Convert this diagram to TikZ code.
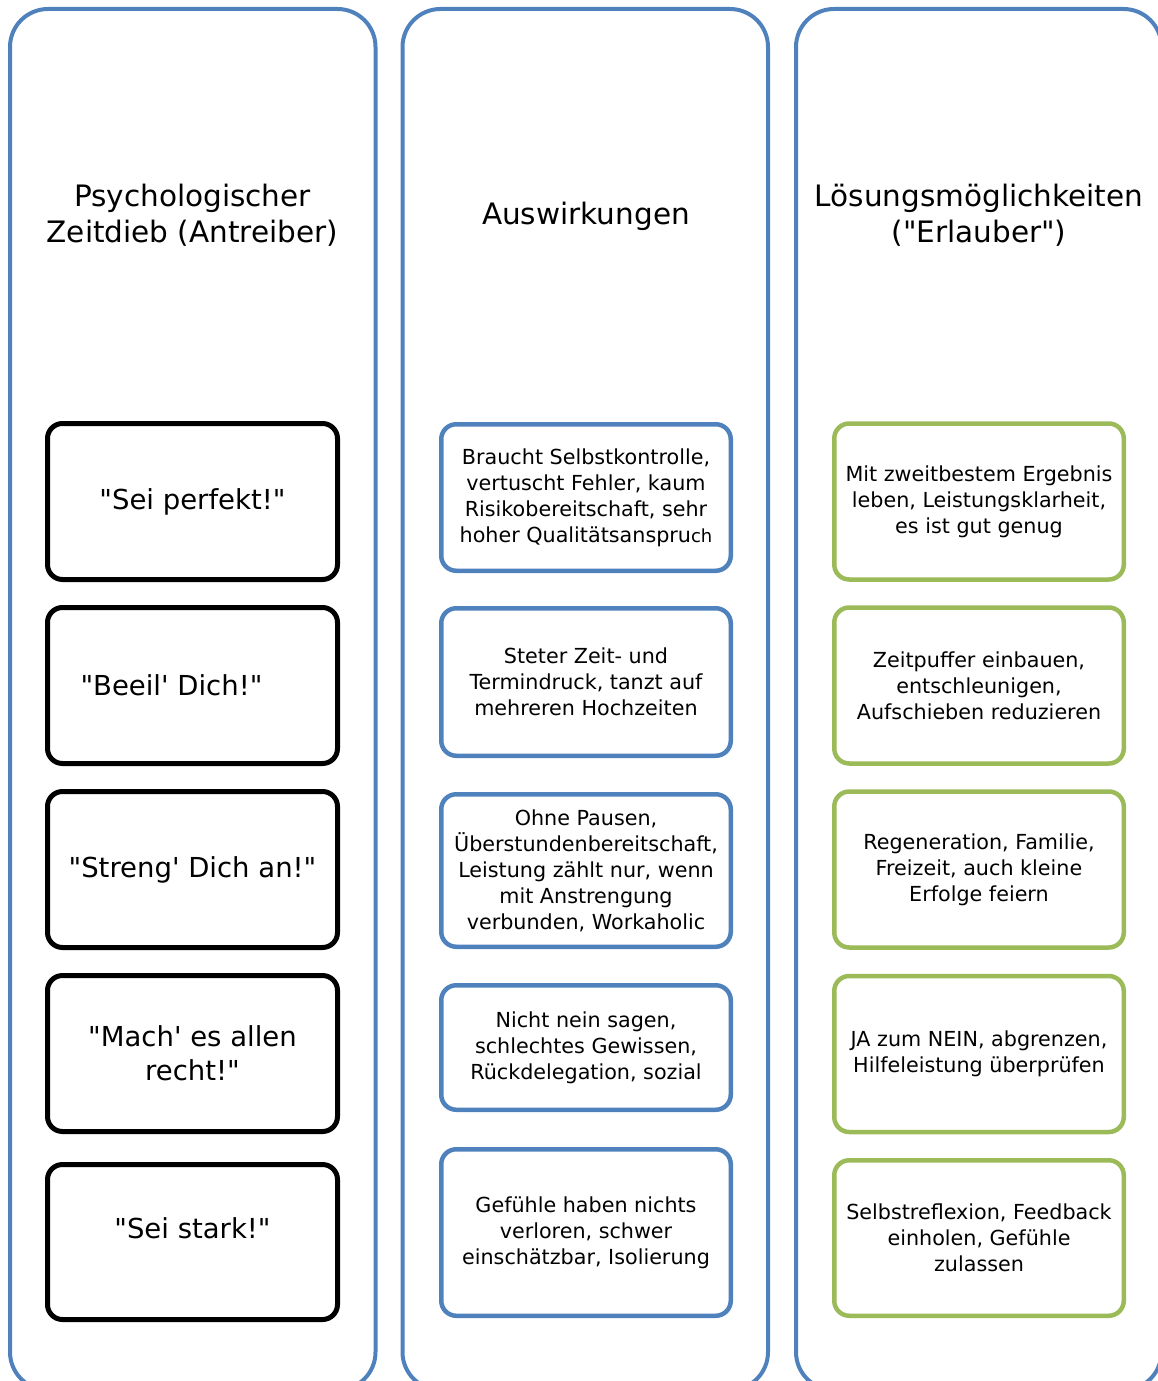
\documentclass[tikz,border=0pt]{standalone}
\usepackage{fontspec}
\setmainfont{DejaVu Sans}
\usepackage{xcolor}
\usepackage{tikz}
\usetikzlibrary{positioning}
\definecolor{bleuCol}{RGB}{79,129,189}
\definecolor{vertCol}{RGB}{155,187,89}
\newcommand{\qd}{\textquotedbl}
\newcommand{\qs}{\textquotesingle}

\begin{document}
\begin{tikzpicture}[x=1pt, y=-1pt,
			column/.style={draw=bleuCol, line width=4pt, rounded corners=38pt,
				minimum width=365.5pt, minimum height=1381pt, inner sep=0pt},
			head/.style={align=center, font=\fontsize{29.5}{36}\selectfont},
			drive/.style={draw=black, line width=5pt, rounded corners=15pt,
				minimum width=290pt, minimum height=156pt, align=center,
				font=\fontsize{27.5}{34}\selectfont},
			effect/.style={draw=bleuCol, line width=4.5pt, rounded corners=15pt,
				minimum width=289.5pt, align=center, inner sep=0pt,
				font=\fontsize{20.7}{26}\selectfont},
			remedy/.style={draw=vertCol, line width=4.5pt, rounded corners=15pt,
				minimum width=289.5pt, minimum height=156pt, align=center, inner sep=0pt,
				font=\fontsize{20.7}{26}\selectfont}
			]
			\useasboundingbox (0,0) rectangle (1158,1381);
			\clip (0,0) rectangle (1158,1381);
			
			% the three columns
			\node[column] (col1) at (192.75,699.5) {};
			\node[column] (col2) at (585.25,699.5) {};
			\node[column] (col3) at (978.75,699.5) {};
			
			\node[head] (h1) at (192.5,215) {Psychologischer\\Zeitdieb (Antreiber)};
			\node[head] (h2) at (586,216) {Auswirkungen};
			\node[head] (h3) at (979,215) {Lösungsmöglichkeiten\\(\qd Erlauber\qd)};
			
			% Antreiber
			\node[drive] (d1) at (192.5,501.5)  {\qd Sei perfekt!\qd\rule[-5pt]{0pt}{5pt}};
			\node[drive] (d2) at (192.5,685.5)  {\qd Beeil\qs{} Dich!\qd\hspace*{42pt}};
			\node[drive] (d3) at (192.5,869.5)  {\qd Streng\qs{} Dich an!\qd};
			\node[drive] (d4) at (192.5,1053.5) {\qd Mach\qs{} es allen\\recht!\qd};
			\node[drive, minimum height=155pt] (d5) at (192.5,1242) {\qd Sei stark!\qd\rule[-28pt]{0pt}{28pt}};
			
			% Auswirkungen
			\node[effect, minimum height=146.5pt] (e1) at (586,497.5)  {Braucht Selbstkontrolle,\\vertuscht Fehler, kaum\\Risikobereitschaft, sehr\\hoher Qualitätsanspru{\fontsize{18}{26}\selectfont ch}};
			\node[effect, minimum height=147.5pt] (e2) at (586,682)    {Steter Zeit- und\\Termindruck, tanzt auf\\mehreren Hochzeiten};
			\node[effect, minimum height=152.5pt] (e3) at (586,870.5)  {Ohne Pausen,\\Überstundenbereitschaft,\\Leistung zählt nur, wenn\\mit Anstrengung\\verbunden, Workaholic};
			\node[effect, minimum height=124.5pt] (e4) at (586,1047.5) {Nicht nein sagen,\\schlechtes Gewissen,\\Rückdelegation, sozial};
			\node[effect, minimum height=166.5pt] (e5) at (586,1232.5) {Gefühle haben nichts\\verloren, schwer\\einschätzbar, Isolierung};
			
			% Erlauber
			\node[remedy] (r1) at (979,501.5)  {Mit zweitbestem Ergebnis\\leben, Leistungsklarheit,\\es ist gut genug};
			\node[remedy] (r2) at (979,685.5)  {Zeitpuffer einbauen,\\entschleunigen,\\Aufschieben reduzieren};
			\node[remedy] (r3) at (979,869.5)  {Regeneration, Familie,\\Freizeit, auch kleine\\Erfolge feiern};
			\node[remedy] (r4) at (979,1054)   {JA zum NEIN, abgrenzen,\\Hilfeleistung überprüfen};
			\node[remedy, minimum height=155.5pt] (r5) at (979,1238) {Selbstreflexion, Feedback\\einholen, Gefühle\\zulassen};
		\end{tikzpicture}
\end{document}
